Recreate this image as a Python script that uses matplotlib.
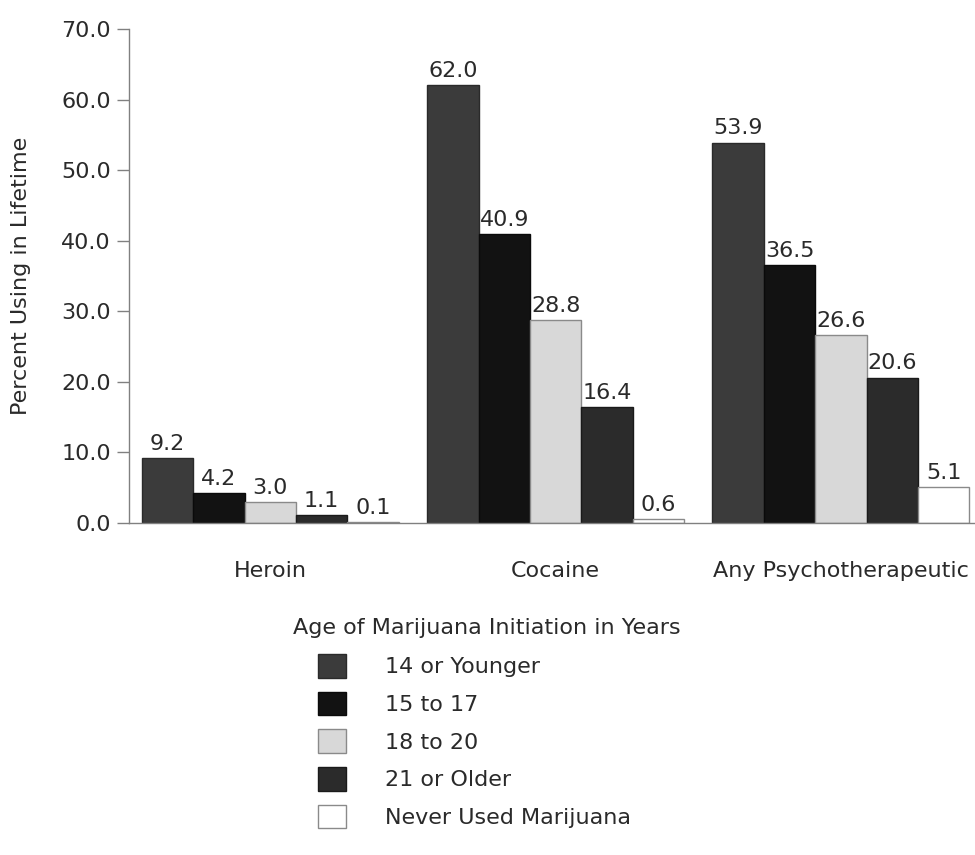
import matplotlib.pyplot as plt
import numpy as np
from matplotlib.ticker import FormatStrFormatter

plt.rcParams['font.family'] = ['DejaVu Sans']

drugs = ['Heroin', 'Cocaine', 'Any Psychotherapeutic']
ages = ['14 or Younger', '15 to 17', '18 to 20', '21 or Older', 'Never Used Marijuana']
heroin = [9.2, 4.2, 3.0, 1.1, 0.1]
cocaine = [62.0, 40.9, 28.8, 16.4, 0.6]
psycho = [53.9, 36.5, 26.6, 20.6, 5.1]

values = np.array([heroin, cocaine, psycho])
fills = ['#3b3b3b', '#121212', '#d8d8d8', '#2b2b2b', '#ffffff']
edges = ['#2a2a2a', '#0a0a0a', '#8a8a8a', '#1a1a1a', '#8a8a8a']
ink = '#2a2a2a'
fs = 16

fig = plt.figure(figsize=(9.75, 8.55), dpi=100)
ax = fig.add_axes([0.1323, 0.3883, 0.8677, 0.5778])

x = np.arange(len(drugs))
w = 0.18
handles = []
for i, age in enumerate(ages):
    pos = x + (i - 2) * w
    bars = ax.bar(pos, values[:, i], width=w, color=fills[i],
                  edgecolor=edges[i], linewidth=1.0, label=age)
    ax.bar_label(bars, labels=['%.1f' % v for v in values[:, i]],
                 padding=3, fontsize=fs, color=ink)
    handles.append(bars)

ax.set_xlim(-0.495, 2.47)
ax.set_ylim(0, 70)
ax.set_yticks(np.arange(0, 71, 10))
ax.yaxis.set_major_formatter(FormatStrFormatter('%.1f'))
ax.set_xticks(x)
ax.set_xticklabels(drugs)
ax.tick_params(axis='x', length=0, pad=27, labelsize=fs, labelcolor=ink)
ax.tick_params(axis='y', direction='out', length=9, width=1, color='#808080',
               labelsize=fs, labelcolor=ink, pad=4)
for side in ['top', 'right']:
    ax.spines[side].set_visible(False)
for side in ['left', 'bottom']:
    ax.spines[side].set_color('#808080')
    ax.spines[side].set_linewidth(1)
ax.set_ylabel('Percent Using in Lifetime', fontsize=fs, color=ink)
ax.yaxis.set_label_coords(-0.116, 0.5)

# legend: title placed separately so the swatches can sit where wanted
fig.text(487 / 975, 1 - 628 / 855, 'Age of Marijuana Initiation in Years',
         ha='center', va='center', fontsize=fs, color=ink)
leg = fig.legend(handles=handles, labels=ages, loc='upper left',
                 bbox_to_anchor=(318 / 975, 1 - 654 / 855), frameon=False,
                 fontsize=fs, handlelength=1.26, handleheight=1.26,
                 labelspacing=0.63, handletextpad=1.75, borderpad=0,
                 borderaxespad=0)
for t in leg.get_texts():
    t.set_color(ink)

fig.savefig('out.png', dpi=100)
